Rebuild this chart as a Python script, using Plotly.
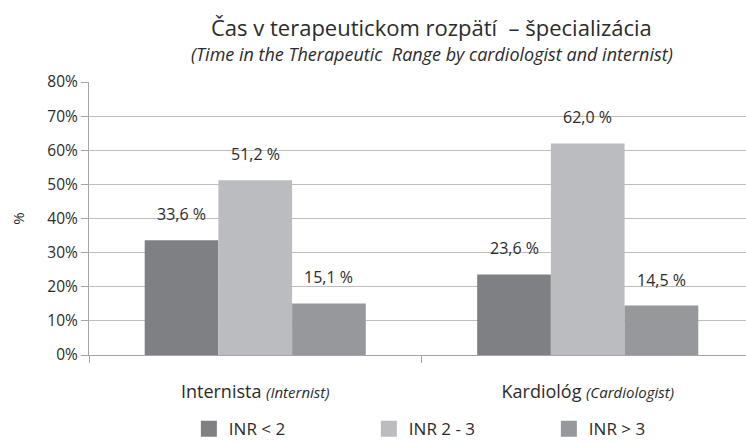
import plotly.graph_objects as go

categories = ["Internista", "Kardiológ"]
category_en = ["Internist", "Cardiologist"]
series_names = ["INR < 2", "INR 2 - 3", "INR > 3"]
inr_below_2 = [33.6, 23.6]
inr_2_3 = [51.2, 62.0]
inr_above_3 = [15.1, 14.5]
series_values = [inr_below_2, inr_2_3, inr_above_3]
series_colors = ["#7f8083", "#bbbcbf", "#97989b"]
y_ticks = [0, 10, 20, 30, 40, 50, 60, 70, 80]
y_tick_labels = [f"{t}%" for t in y_ticks]

FONT = "Open Sans"
TXT = "#2b2b2b"

x_labels = [f"{c} <i><span style='font-size:15px'>({e})</span></i>" for c, e in zip(categories, category_en)]

fig = go.Figure()
for name, vals, col in zip(series_names, series_values, series_colors):
    fig.add_trace(go.Bar(
        x=x_labels, y=vals, name=name, showlegend=False,
        marker=dict(color=col, line=dict(width=0)),
    ))
# legend proxies (larger square swatches)
for name, col in zip(series_names, series_colors):
    fig.add_trace(go.Scatter(
        x=[None], y=[None], name=name, mode="markers",
        marker=dict(symbol="square", size=16, color=col),
        showlegend=True,
    ))

annotations = []
n = len(series_values)
bar_w = 0.665 / n
for i, vals in enumerate(series_values):
    for j, v in enumerate(vals):
        annotations.append(dict(
            x=j + (i - (n - 1) / 2) * bar_w, y=v, xref="x", yref="y",
            text=f"{v:.1f} %".replace(".", ","), showarrow=False,
            yanchor="middle", yshift=26,
            font=dict(family=FONT, size=16, color=TXT),
        ))

annotations.append(dict(
    x=0.522, y=1.200, xref="paper", yref="paper", showarrow=False,
    text="Čas v terapeutickom rozpätí  – špecializácia",
    font=dict(family=FONT, size=22, color=TXT), yanchor="middle", xanchor="center",
))
annotations.append(dict(
    x=0.522, y=1.104, xref="paper", yref="paper", showarrow=False,
    text="<i>(Time in the Therapeutic  Range by cardiologist and internist)</i>",
    font=dict(family=FONT, size=18, color=TXT), yanchor="middle", xanchor="center",
))

fig.update_layout(
    width=746, height=443,
    margin=dict(l=89, r=0, t=82, b=88, autoexpand=False),
    paper_bgcolor="white", plot_bgcolor="white",
    barmode="group", bargap=0.335, bargroupgap=0,
    font=dict(family=FONT, size=15, color=TXT),
    showlegend=True,
    legend=dict(
        orientation="h", x=0.152, xanchor="left", y=-0.272, yanchor="middle",
        font=dict(family=FONT, size=17, color=TXT),
        entrywidth=135, entrywidthmode="pixels",
        traceorder="normal", bgcolor="rgba(0,0,0,0)",
    ),
    annotations=annotations,
)

fig.update_xaxes(
    type="category", range=[-0.5, 1.476], automargin=False,
    showline=True, linecolor="#a6a6a6", linewidth=1,
    ticks="outside", tickson="boundaries", ticklen=7, tickcolor="#a6a6a6",
    tickfont=dict(family=FONT, size=18, color=TXT),
    ticklabelstandoff=20,
    showgrid=False,
)
fig.update_yaxes(
    range=[0, 80], tickvals=y_ticks, ticktext=y_tick_labels, automargin=False,
    showline=True, linecolor="#a6a6a6", linewidth=1,
    ticks="outside", ticklen=7, tickcolor="#a6a6a6",
    showgrid=True, gridcolor="#bdbdbd", gridwidth=1,
    tickfont=dict(family=FONT, size=15.5, color=TXT),
    title=dict(text="%", font=dict(family=FONT, size=15, color=TXT), standoff=19),
    zeroline=False,
)

fig.write_html(
    "out.html",
    config={"displayModeBar": False},
    post_script="document.body.style.margin='0';document.body.style.overflow='hidden';",
)
